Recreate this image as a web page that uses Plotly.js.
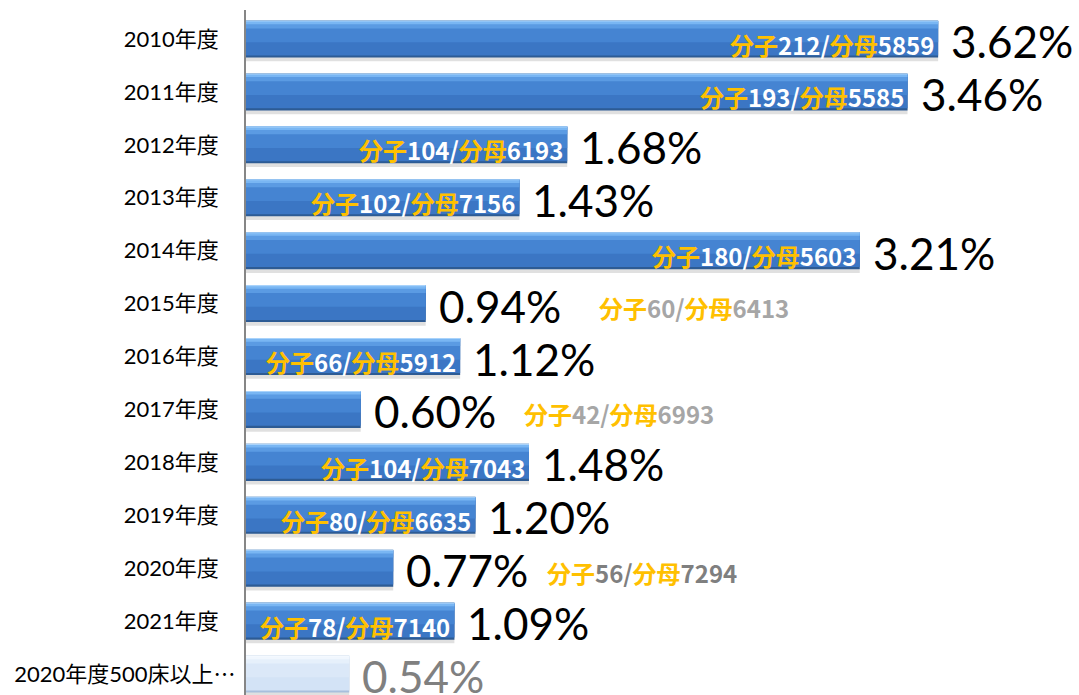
<!DOCTYPE html>
<html>
<head>
<meta charset="utf-8">
<script src="https://cdn.plot.ly/plotly-3.0.1.min.js"></script>
<style>html,body{margin:0;padding:0;background:#fff;}#chart{width:1079px;height:695px;}</style>
</head>
<body>
<div id="chart"></div>
<script>
const categories = ['2010年度','2011年度','2012年度','2013年度','2014年度','2015年度','2016年度','2017年度','2018年度','2019年度','2020年度','2021年度','2020年度500床以上…'];
const rates = [3.62,3.46,1.68,1.43,3.21,0.94,1.12,0.60,1.48,1.20,0.77,1.09,0.54];
const numerators = [212,193,104,102,180,60,66,42,104,80,56,78,null];
const denominators = [5859,5585,6193,7156,5603,6413,5912,6993,7043,6635,7294,7140,null];
const labelInside = [true,true,true,true,true,false,true,false,true,true,false,true,null];

// styles (not data)
const outsideShift = {5:171, 7:161, 10:152};
const outsideNumColor = {5:'#a6a6a6', 7:'#a6a6a6', 10:'#7f7f7f'};
const isRef = categories.map((c,i)=> i===categories.length-1);
const col = (dark, light) => isRef.map(r => r ? light : dark);

const barLayer = (color, offset, width) => ({
  type:'bar', orientation:'h', x:rates, y:categories,
  offset:offset, width:width,
  marker:{color:color, line:{width:0}},
  hoverinfo:'skip', showlegend:false
});

const traces = [
  barLayer('rgba(0,0,0,0.12)', -0.30, 0.72),
  barLayer(col('#2d5b94','#a8bfdc'), -0.35, 0.70),
  barLayer(col('#3b76c4','#d3e3f6'), -0.34, 0.65),
  barLayer(col('#4584d2','#dbe8f8'), -0.34, 0.40),
  barLayer(col('#5b9be3','#e6f0fb'), -0.34, 0.14),
  barLayer(col('#79b6f3','#f1f7fe'), -0.34, 0.06),
  barLayer(col('#a9d3fb','#f8fbff'), -0.35, 0.02)
];

// tick text: regular labels padded away from the axis; the long one sits closer (as in the reference)
const pad = '\u00a0\u00a0\u00a0';
const tickText = categories.map((c,i) => isRef[i]
  ? c.replace('…', '<span style="font-family:\'Noto Sans CJK JP\'">…</span>')
  : c + pad);

const gold = '#ffc000';
const annotations = [];
categories.forEach((c,i)=>{
  annotations.push({
    x:rates[i], y:c, xref:'x', yref:'y', xanchor:'left', yanchor:'middle',
    xshift:11, yshift:-2, showarrow:false,
    text: rates[i].toFixed(2)+'%',
    font:{family:'Lato, "Noto Sans", sans-serif', size:44, color: isRef[i] ? '#808080' : '#000000'}
  });
  if (numerators[i] !== null) {
    const inside = labelInside[i];
    const numCol = inside ? '#ffffff' : outsideNumColor[i];
    const txt = '<span style="color:'+gold+'">分子</span>'+numerators[i]+'/<span style="color:'+gold+'">分母</span>'+denominators[i];
    annotations.push({
      x:rates[i], y:c, xref:'x', yref:'y',
      xanchor: inside ? 'right' : 'left', yanchor:'middle',
      xshift: inside ? -2 : outsideShift[i], yshift: inside ? -5 : -4,
      showarrow:false, text:txt,
      font:{family:'"Noto Sans CJK JP", "Open Sans", sans-serif', size:24, weight:700, color:numCol}
    });
  }
});

const layout = {
  width:1079, height:695,
  margin:{l:246, r:0, t:10, b:0, pad:0},
  paper_bgcolor:'#ffffff', plot_bgcolor:'#ffffff',
  barmode:'overlay', bargap:0.3,
  showlegend:false,
  xaxis:{range:[0, 833/191.2], visible:false, fixedrange:true},
  yaxis:{
    type:'category', range:[12.396, -0.548],
    tickvals:categories, ticktext:tickText,
    showline:true, linecolor:'#868686', linewidth:2,
    showgrid:false, zeroline:false, ticks:'',
    ticklabelstandoff:4,
    tickfont:{family:'Lato, "Noto Sans CJK JP", sans-serif', size:22, color:'#000000'}
  },
  annotations:annotations
};

Plotly.newPlot('chart', traces, layout, {displayModeBar:false, staticPlot:true});
</script>
</body>
</html>
